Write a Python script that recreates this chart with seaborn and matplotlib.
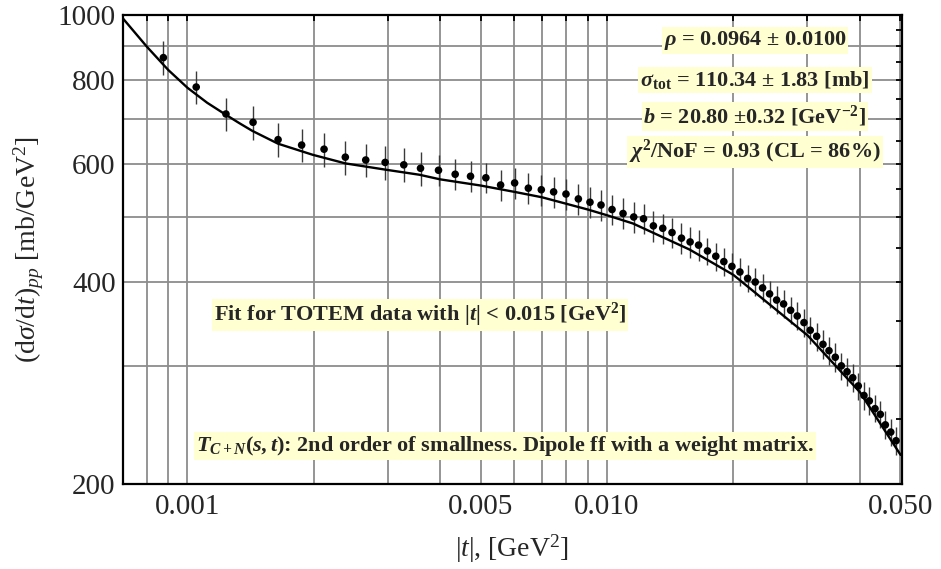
import numpy as np
import pandas as pd
import matplotlib
matplotlib.use("Agg")
import matplotlib.pyplot as plt
import seaborn as sns
from matplotlib.ticker import FixedLocator, FixedFormatter, NullFormatter

# ---------------- data ----------------
t_data = [0.000876, 0.001049, 0.001235, 0.001433, 0.001644, 0.001871, 0.002116, 0.002378,
          0.00266, 0.002959, 0.003278, 0.003593, 0.003966, 0.004346, 0.004728, 0.005143,
          0.005577, 0.006023, 0.006494, 0.006973, 0.007461, 0.007984, 0.008545, 0.009108,
          0.009676, 0.01028, 0.01092, 0.01158, 0.01222, 0.0129, 0.01358, 0.01429,
          0.01505, 0.01578, 0.01653, 0.01736, 0.01817, 0.01899, 0.01985, 0.02074,
          0.02164, 0.02256, 0.02349, 0.02441, 0.02537, 0.02636, 0.0274, 0.02841,
          0.02948, 0.03051, 0.03161, 0.03272, 0.03382, 0.03501, 0.03619, 0.03734,
          0.03853, 0.03972, 0.04098, 0.0422, 0.04354, 0.04483, 0.04608, 0.04747, 0.04887]
dsdt_data = [864, 781, 712, 692, 652, 640, 631, 614, 608, 603, 598, 591, 587, 579, 575, 572,
             558, 562, 552, 549, 545, 541, 532, 526, 521, 513, 506, 500, 497, 485, 481, 474,
             465, 459, 454, 445, 437, 429, 422, 414, 405, 400, 392, 384, 376, 371, 363, 356,
             348, 339, 332, 323, 316, 309, 300, 294, 288, 280, 271, 266, 259, 254, 245, 239, 232]
dsdt_err = [50, 45, 41, 40, 38, 37, 37, 36, 35, 35, 35, 34, 31, 31, 30, 30,
            30, 30, 29, 29, 29, 29, 28, 28, 28, 27, 27, 27, 26, 26, 25, 25,
            25, 24, 24, 21, 21, 21, 20, 20, 19, 19, 19, 18, 18, 18, 17, 17,
            17, 16, 16, 16, 15, 15, 14, 14, 14, 13, 13, 13, 12, 12, 12, 11, 11]

t_fit = [0.0007, 0.0008, 0.0009, 0.001, 0.001114, 0.001235, 0.001329, 0.001427, 0.001644,
         0.001988, 0.002378, 0.002975, 0.003573, 0.004, 0.005, 0.00602, 0.007, 0.009,
         0.01, 0.01153, 0.01575, 0.02, 0.03008, 0.0401, 0.0501]
dsdt_fit = [990, 897, 828, 779, 740, 710, 690, 672, 643, 619, 601, 588, 578, 569, 557,
            545, 535, 513, 503, 489, 447, 410, 333, 274, 221]

x_major = [0.001, 0.005, 0.01, 0.05]
x_major_labels = ["0.001", "0.005", "0.010", "0.050"]
x_minor = [0.0008, 0.0009, 0.002, 0.003, 0.004, 0.006, 0.007, 0.008, 0.009,
           0.02, 0.03, 0.04]
y_grid = [200, 300, 400, 500, 600, 700, 800, 900, 1000]
y_grid_labels = ["200", "", "400", "", "600", "", "800", "", "1000"]
y_minor = [250, 350, 450, 550, 650, 750, 850, 950]

txt_rho = r"$\mathbfit{\rho}$ = 0.0964 ± 0.0100"
txt_sig = r"$\mathbfit{\sigma}_{\mathbf{tot}}$ = 110.34 ± 1.83 [mb]"
txt_b = r"$\mathbfit{b}$ = 20.80 ±0.32 [GeV$^{\mathbf{-2}}$]"
txt_chi = r"$\mathbfit{\chi}^{\mathbf{2}}$/NoF = 0.93 (CL = 86%)"
txt_fit = r"Fit for TOTEM data with |$\mathbfit{t}$| < 0.015 [GeV$^{\mathbf{2}}$]"
txt_T = r"$\mathbfit{T}_{\mathbfit{C+N}}$($\mathbfit{s,t}$): 2nd order of smallness. Dipole ff with a weight matrix."

# ---------------- style ----------------
sns.set_style("white")
plt.rcParams["font.family"] = ["Liberation Serif", "DejaVu Serif"]
plt.rcParams["mathtext.fontset"] = "custom"
plt.rcParams["mathtext.rm"] = "Liberation Serif"
plt.rcParams["mathtext.it"] = "Liberation Serif:italic"
plt.rcParams["mathtext.bf"] = "Liberation Serif:bold"
plt.rcParams["mathtext.bfit"] = "Liberation Serif:bold:italic"

fig = plt.figure(figsize=(9.41, 5.69), dpi=100)
ax = fig.add_axes([0.1302, 0.1494, 0.828, 0.8242])
ax.set_xscale("log")
ax.set_yscale("log")

df = pd.DataFrame({"t": t_data, "v": dsdt_data, "e": dsdt_err})
fit = pd.DataFrame({"t": t_fit, "v": dsdt_fit})

ax.errorbar(df["t"], df["v"], yerr=df["e"], fmt="none", ecolor="#3a3a3a",
            elinewidth=1.0, capsize=0, zorder=2)
sns.scatterplot(data=df, x="t", y="v", color="black", s=30, edgecolor="none",
                zorder=3, ax=ax, legend=False)
sns.lineplot(data=fit, x="t", y="v", color="black", linewidth=1.7, ax=ax,
             estimator=None, zorder=4, legend=False)

ax.set_xlim(0.0007, 0.0504)
ax.set_ylim(200, 1000)

ax.xaxis.set_major_locator(FixedLocator(x_major))
ax.xaxis.set_major_formatter(FixedFormatter(x_major_labels))
ax.xaxis.set_minor_locator(FixedLocator(x_minor))
ax.xaxis.set_minor_formatter(NullFormatter())
ax.yaxis.set_major_locator(FixedLocator(y_grid))
ax.yaxis.set_major_formatter(FixedFormatter(y_grid_labels))
ax.yaxis.set_minor_locator(FixedLocator(y_minor))
ax.yaxis.set_minor_formatter(NullFormatter())

ax.set_axisbelow(True)
ax.grid(True, which="both", axis="x", color="#8c8c8c", linewidth=1.3)
ax.grid(True, which="major", axis="y", color="#8c8c8c", linewidth=1.3)

ax.tick_params(which="both", direction="in", top=True, right=True,
               length=4, width=1.3, color="black", labelsize=21)
ax.tick_params(axis="x", which="both", pad=7)
ax.tick_params(axis="y", which="both", pad=5)
for s in ax.spines.values():
    s.set_linewidth(1.6)
    s.set_color("black")

ax.set_xlabel(r"|$\mathit{t}$|, [GeV$^2$]", fontsize=20, labelpad=9)
ax.set_ylabel(r"(d$\mathit{\sigma}$/d$\mathit{t}$)$_{\mathit{pp}}$ [mb/GeV$^2$]",
              fontsize=20, labelpad=8)

box = dict(boxstyle="square,pad=0.08", fc="#ffffd2", ec="none")
kw = dict(transform=ax.transAxes, ha="center", va="center", fontsize=16,
          fontweight="bold", bbox=box, zorder=6)
ax.text(0.8117, 0.9452, txt_rho, **kw)
ax.text(0.8117, 0.8614, txt_sig, **kw)
ax.text(0.8117, 0.7832, txt_b, **kw)
ax.text(0.8117, 0.7085, txt_chi, **kw)
ax.text(0.3818, 0.3603, txt_fit, **kw)
ax.text(0.4909, 0.0810, txt_T, **kw)

fig.savefig("out.png", dpi=100)
